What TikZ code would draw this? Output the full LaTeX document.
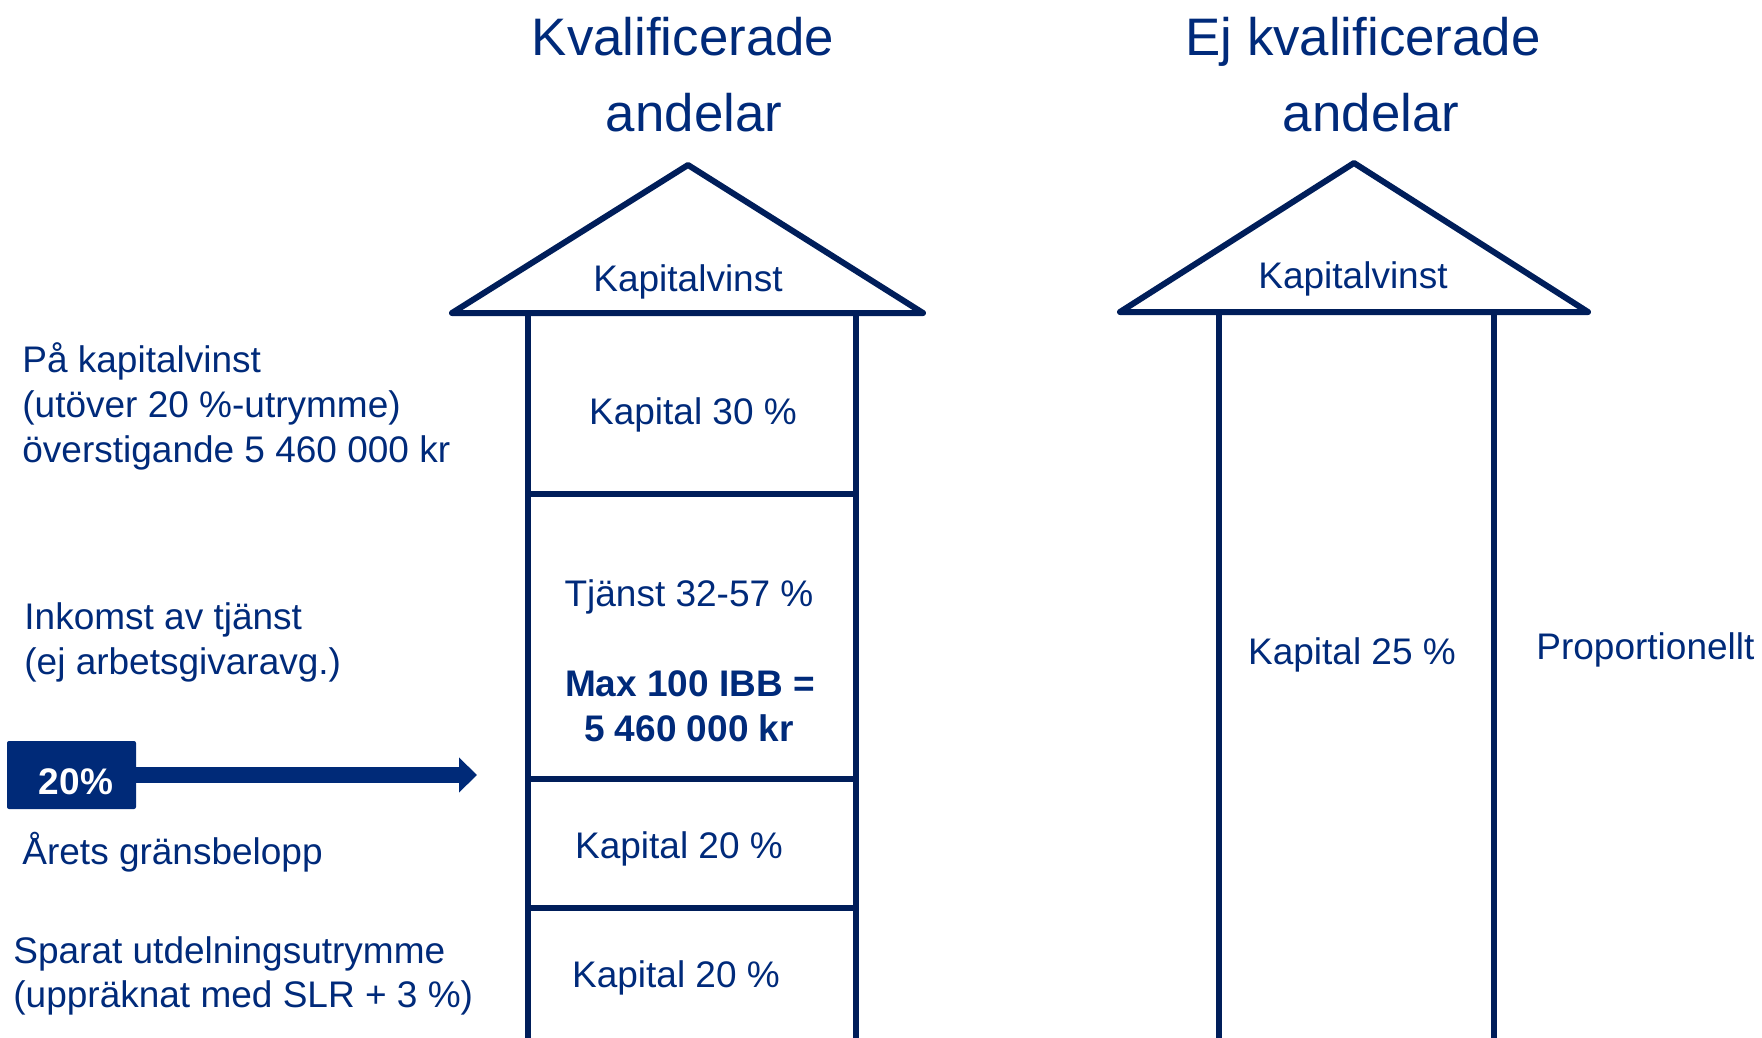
\documentclass[tikz,border=0pt]{standalone}
\usepackage{fontspec}
\setmainfont{Liberation Sans}
\usetikzlibrary{arrows.meta}
\definecolor{txtblue}{RGB}{0,42,122}
\definecolor{navy}{RGB}{0,30,90}
\definecolor{boxblue}{RGB}{0,42,120}
\tikzset{
  body/.style={text=txtblue, font=\fontsize{18.5}{22.5}\selectfont, inner sep=0pt, anchor=base},
  bodybold/.style={body, font=\fontsize{18.5}{22.5}\selectfont\bfseries},
  sidetext/.style={body, anchor=base west, align=left},
  titletext/.style={text=txtblue, font=\fontsize{26.4}{38}\selectfont, inner sep=0pt, anchor=base},
  house/.style={draw=navy, line width=3pt, line join=round, line cap=round},
  pillar/.style={draw=navy, line width=3pt},
  pctbox/.style={fill=boxblue, rounded corners=1pt, minimum width=64.5pt, minimum height=34pt, inner sep=0pt},
  pcttext/.style={text=white, font=\fontsize{18.5}{22.5}\selectfont\bfseries, inner sep=0pt, anchor=base},
  arr/.style={draw=boxblue, line width=8pt, -{Triangle[length=9pt,width=17pt]}}
}
\begin{document}
\begin{tikzpicture}[x=0.5pt,y=-0.5pt]
\useasboundingbox (0,0) rectangle (1762,1038);
\clip (0,0) rectangle (1762,1038);

% titles
\node[titletext] (t1a) at (683,56) {Kvalificerade};
\node[titletext] (t1b) at (694,132) {andelar};
\node[titletext] (t2a) at (1363,56) {Ej kvalificerade};
\node[titletext] (t2b) at (1371,132) {andelar};

% left house
\draw[house] (452,313) -- (688,165) -- (923,313) -- cycle;
\draw[pillar] (528,313) -- (528,1045);
\draw[pillar] (856,313) -- (856,1045);
\draw[pillar] (528,494) -- (856,494);
\draw[pillar] (528,779) -- (856,779);
\draw[pillar] (528,908) -- (856,908);

% right house
\draw[house] (1120,312) -- (1354,163) -- (1588,312) -- cycle;
\draw[pillar] (1219,312) -- (1219,1045);
\draw[pillar] (1494,312) -- (1494,1045);

% column texts
\node[body] (kv1) at (688,291) {Kapitalvinst};
\node[body] (kv2) at (1353,288) {Kapitalvinst};
\node[body] (k30) at (693,424) {Kapital 30 \%};
\node[body] (tj) at (689,606) {Tjänst 32-57 \%};
\node[bodybold] (max1) at (690,696) {Max 100 IBB =};
\node[bodybold] (max2) at (689,741) {5 460 000 kr};
\node[body] (k20a) at (679,858) {Kapital 20 \%};
\node[body] (k20b) at (676,987) {Kapital 20 \%};
\node[body] (k25) at (1352,664) {Kapital 25 \%};
\node[sidetext] (prop) at (1536,659) {Proportionellt};

% side texts (anchored at the baseline of their last line)
\node[sidetext] (s1) at (22,462) {På kapitalvinst\\(utöver 20 \%-utrymme)\\överstigande 5 460 000 kr};
\node[sidetext] (s2) at (24,674) {Inkomst av tjänst\\(ej arbetsgivaravg.)};
\node[sidetext] (s3) at (22,864) {Årets gränsbelopp};
\node[sidetext, font=\fontsize{18.5}{22}\selectfont] (s4) at (13,1007) {Sparat utdelningsutrymme\\(uppräknat med SLR + 3 \%)};

% 20% marker and arrow
\node[pctbox] (pctbox) at (71.5,775) {};
\node[pcttext] (pct) at (76,794) {20\%};
\coordinate (arrend) at (477,775);
\draw[arr] (pctbox.east) -- (arrend);
\end{tikzpicture}
\end{document}
